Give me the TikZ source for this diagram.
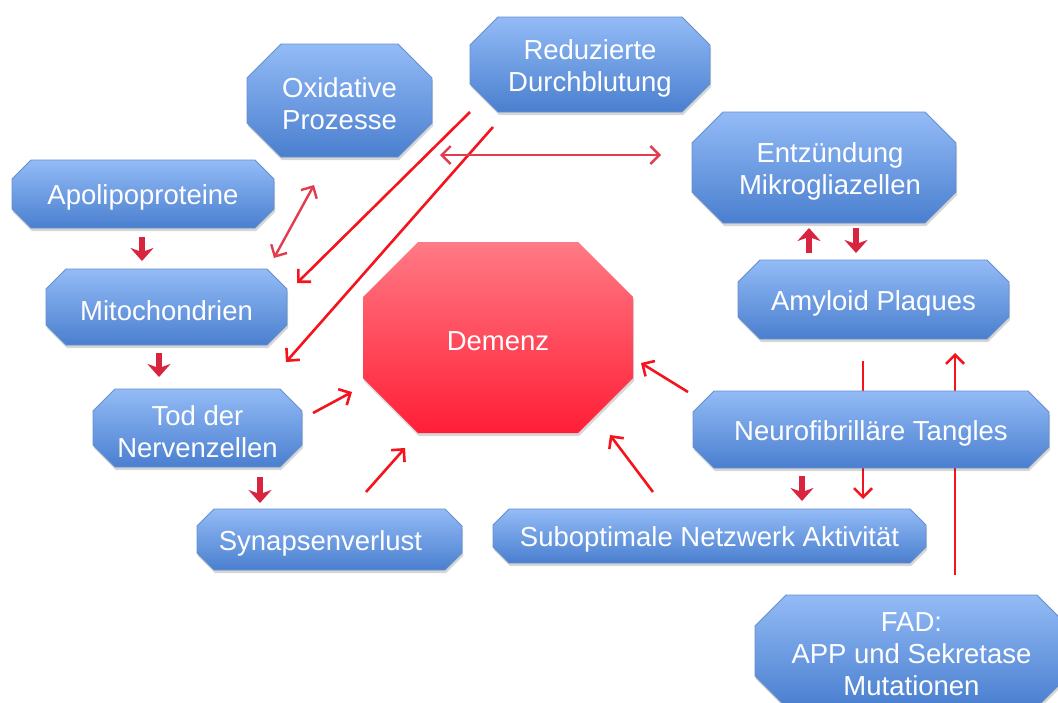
\documentclass[tikz,border=0pt]{standalone}
\usepackage{fontspec}
\setmainfont{Liberation Sans}
\usetikzlibrary{arrows.meta}
\definecolor{boxtop}{HTML}{93BBF6}
\definecolor{boxbot}{HTML}{4A7FCF}
\definecolor{boxedge}{HTML}{6690CC}
\definecolor{demtop}{HTML}{FF7A85}
\definecolor{dembot}{HTML}{FF1E36}
\definecolor{thinred}{HTML}{F5141E}
\definecolor{softred}{HTML}{E23C4E}
\definecolor{blockred}{HTML}{D8243F}
\newcommand{\octpath}[5]{({#1+#5},{#2}) -- ({#3-#5},{#2}) -- ({#3},{#2+#5}) -- ({#3},{#4-#5}) -- ({#3-#5},{#4}) -- ({#1+#5},{#4}) -- ({#1},{#4-#5}) -- ({#1},{#2+#5}) -- cycle}
\newcommand{\octbox}[9]{%
  \fill[boxshadow, shift={(1,3)}] \octpath{#2}{#3}{#4}{#5}{#6};
  \shade[#7] \octpath{#2}{#3}{#4}{#5}{#6};
  \node[boxtext] (#1) at ({(#2+#4)/2+#8},{(#3+#5)/2+3.5}) {#9};
}
\tikzset{
  boxtext/.style={text=white, align=center, font=\fontsize{27.5}{32}\selectfont, inner sep=0pt},
  boxshadow/.style={fill=black, opacity=0.16},
  bluebox/.style={top color=boxtop, bottom color=boxbot, draw=boxedge, line width=0.8pt},
  redbox/.style={top color=demtop, bottom color=dembot},
  thinarrow/.style={draw=thinred, line width=2.6pt, -{Straight Barb[length=9pt,width=18pt]}},
  softdouble/.style={draw=softred, line width=2.4pt, {Straight Barb[length=9pt,width=18pt]}-{Straight Barb[length=9pt,width=18pt]}},
  blockarrow/.style={draw=blockred, line width=6.5pt, -{Stealth[length=13pt,width=23pt,inset=4pt]}}
}
\begin{document}
\begin{tikzpicture}[x=1pt,y=-1pt]
\useasboundingbox (0,0) rectangle (1058,702);
\clip (0,0) rectangle (1058,702);
\fill[white] (0,0) rectangle (1058,702);
% coordinates for connector ends
\coordinate (r1s) at (470,112); \coordinate (r1e) at (297,283);
\coordinate (r2s) at (493,127); \coordinate (r2e) at (286,362);
\coordinate (h1) at (440,155); \coordinate (h2) at (661,155);
\coordinate (o1) at (314,185); \coordinate (o2) at (274,258);
\coordinate (t1) at (313,413); \coordinate (t2) at (352,392);
\coordinate (s1) at (366,492); \coordinate (s2) at (405,448);
\coordinate (n1) at (688,392); \coordinate (n2) at (641,363);
\coordinate (u1) at (653,492); \coordinate (u2) at (610,435);
\coordinate (a1) at (863,361); \coordinate (a2) at (863,499);
\coordinate (f1) at (955,575); \coordinate (f2) at (955,353);
\coordinate (b1s) at (142,237); \coordinate (b1e) at (142,261);
\coordinate (b2s) at (159,353); \coordinate (b2e) at (159,377);
\coordinate (b3s) at (260,477); \coordinate (b3e) at (260,503);
\coordinate (b4s) at (856,228); \coordinate (b4e) at (856,253);
\coordinate (b5s) at (809,253); \coordinate (b5e) at (809,228);
\coordinate (b6s) at (802,476); \coordinate (b6e) at (802,501);
% connectors
\draw[thinarrow] (r1s) -- (r1e);
\draw[thinarrow] (r2s) -- (r2e);
\draw[softdouble] (h1) -- (h2);
\draw[softdouble] (o1) -- (o2);
\draw[thinarrow] (t1) -- (t2);
\draw[thinarrow] (s1) -- (s2);
\draw[thinarrow] (n1) -- (n2);
\draw[thinarrow] (u1) -- (u2);
\draw[thinarrow] (a1) -- (a2);
\draw[thinarrow] (f1) -- (f2);
\draw[blockarrow] (b1s) -- (b1e);
\draw[blockarrow] (b2s) -- (b2e);
\draw[blockarrow] (b3s) -- (b3e);
\draw[blockarrow] (b4s) -- (b4e);
\draw[blockarrow] (b5s) -- (b5e);
\draw[blockarrow] (b6s) -- (b6e);
% boxes
\octbox{oxid}{247}{44}{432}{157}{34}{bluebox}{0}{Oxidative\\Prozesse}
\octbox{redu}{470}{17}{710}{112}{28}{bluebox}{0}{Reduzierte\\Durchblutung}
\octbox{apo}{12}{160}{274}{228}{19}{bluebox}{0}{Apolipoproteine}
\octbox{mito}{46}{269}{287}{345}{20}{bluebox}{0}{Mitochondrien}
\octbox{tod}{93}{389}{302}{467}{22}{bluebox}{0}{Tod der\\Nervenzellen}
\octbox{syn}{197}{509}{462}{570}{17}{bluebox}{-9}{Synapsenverlust}
\octbox{dem}{363}{242}{633}{433}{55}{redbox}{0}{Demenz}
\octbox{entz}{692}{112}{956}{223}{31}{bluebox}{6}{Entzündung\\Mikrogliazellen}
\octbox{amy}{738}{260}{1009}{339}{22}{bluebox}{0}{Amyloid Plaques}
\octbox{neuro}{693}{391}{1049}{468}{21}{bluebox}{0}{Neurofibrilläre Tangles}
\octbox{subopt}{493}{509}{926}{563}{16}{bluebox}{0}{Suboptimale Netzwerk Aktivität}
\octbox{fad}{755}{595}{1068}{707}{31}{bluebox}{0}{FAD:\\APP und Sekretase\\Mutationen}
\end{tikzpicture}
\end{document}
